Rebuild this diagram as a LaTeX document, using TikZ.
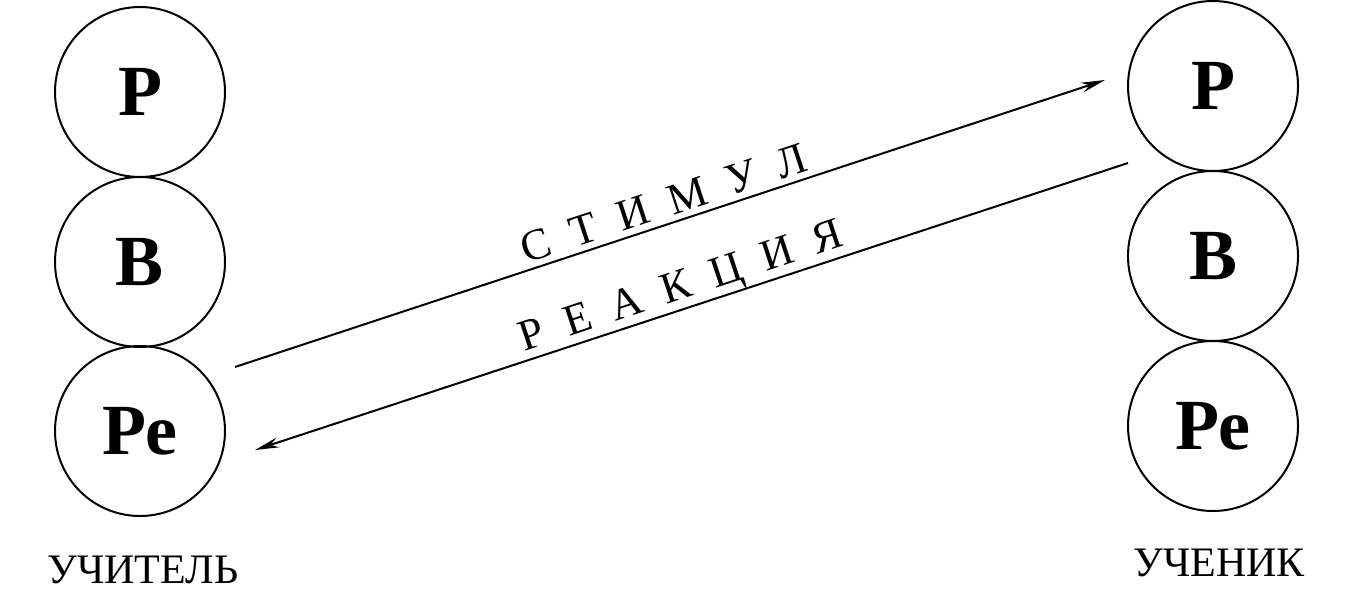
\documentclass[tikz,border=0pt]{standalone}
\usepackage{fontspec}
\setmainfont{Liberation Serif}
\usetikzlibrary{arrows.meta}
\begin{document}
\begin{tikzpicture}[x=1pt,y=-1pt,
  ring/.style={draw,circle,line width=2pt,minimum size=170pt,inner sep=0pt,font=\fontsize{72}{72}\selectfont\bfseries},
  who/.style={font=\fontsize{42}{42}\selectfont},
  spaced/.style={font=\fontsize{44}{44}\selectfont,rotate=18.3},
  link/.style={line width=2pt,-{Stealth[length=24pt,width=10pt]}}]
\useasboundingbox (0,0) rectangle (1348,600);
\node[ring] (tP) at (140,92) {Р};
\node[ring] (tB) at (140,262) {В};
\node[ring] (tR) at (140,431) {Ре};
\node[ring] (sP) at (1213,86) {Р};
\node[ring] (sB) at (1213,256) {В};
\node[ring] (sR) at (1213,426) {Ре};
\node[who] (tl) at (143,570) {УЧИТЕЛЬ};
\node[who] (sl) at (1219,563) {УЧЕНИК};
\coordinate (a1) at (235,367);
\coordinate (a2) at (1105,80);
\coordinate (b1) at (1128,163);
\coordinate (b2) at (255,450);
\draw[link] (a1) -- (a2);
\draw[link] (b1) -- (b2);
\node[spaced] (st) at (664,203) {С\hspace{0.5em}Т\hspace{0.5em}И\hspace{0.5em}М\hspace{0.5em}У\hspace{0.5em}Л};
\node[spaced] (re) at (682,289) {Р\hspace{0.5em}Е\hspace{0.5em}А\hspace{0.5em}К\hspace{0.5em}Ц\hspace{0.5em}И\hspace{0.5em}Я};
\end{tikzpicture}
\end{document}
